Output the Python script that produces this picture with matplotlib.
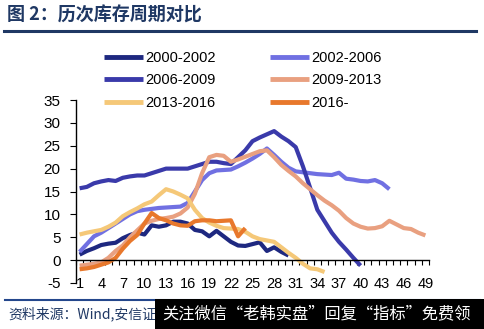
import numpy as np
import matplotlib
matplotlib.use("Agg")
import matplotlib.pyplot as plt
from matplotlib.lines import Line2D
from matplotlib.patches import Rectangle

plt.rcParams['font.family'] = ['Liberation Sans', 'Noto Sans CJK SC', 'DejaVu Sans']

# ---- data ----
labels = ["2000-2002", "2002-2006", "2006-2009", "2009-2013", "2013-2016", "2016-"]
s2000 = [1.2, 2.0, 2.6, 3.3, 3.6, 3.8, 4.8, 5.5, 6.0, 5.6, 7.6, 7.3, 7.6, 8.4, 8.4, 8.0,
         6.6, 6.3, 5.2, 6.4, 5.2, 4.0, 3.2, 3.1, 3.5, 3.9, 2.0, 2.8, 1.8, 1.0]
s2002 = [1.8, 3.5, 5.2, 6.0, 7.0, 8.0, 9.0, 10.0, 10.7, 11.0, 11.2, 11.4, 11.5, 11.6, 11.7,
         12.5, 15.0, 17.5, 19.0, 19.6, 19.7, 19.8, 20.5, 21.3, 22.2, 23.2, 24.4, 23.0, 21.5,
         20.2, 19.4, 19.2, 19.0, 18.8, 18.7, 18.6, 19.1, 17.8, 17.6, 17.3, 17.2, 17.5, 16.8, 15.5]
s2006 = [15.7, 16.0, 16.8, 17.2, 17.5, 17.3, 18.0, 18.3, 18.5, 18.5, 19.0, 19.5, 20.0, 20.0,
         20.0, 20.0, 20.5, 21.0, 21.5, 21.5, 21.2, 21.0, 22.5, 24.0, 26.0, 26.8, 27.5, 28.2,
         27.0, 26.0, 24.7, 20.5, 15.8, 11.0, 8.5, 6.0, 4.0, 2.3, 0.5, -1.2]
s2009 = [-1.2, -1.0, -0.8, -0.5, 0.5, 2.0, 3.2, 5.0, 6.5, 8.0, 8.6, 9.0, 9.2, 9.5, 10.2,
         11.5, 14.5, 19.0, 22.5, 23.0, 22.8, 21.5, 22.0, 22.6, 23.2, 23.8, 24.0, 22.5, 20.8,
         19.5, 18.3, 16.8, 15.5, 14.2, 13.0, 12.0, 10.8, 9.2, 8.0, 7.3, 6.9, 7.0, 7.4, 8.6,
         7.8, 7.0, 6.8, 6.0, 5.4]
s2013 = [5.6, 6.0, 6.3, 6.6, 7.3, 8.2, 9.6, 10.5, 11.3, 12.2, 12.8, 14.2, 15.5, 15.0, 14.3,
         13.5, 11.0, 9.2, 8.2, 7.5, 7.0, 6.9, 6.8, 6.2, 5.2, 4.6, 4.3, 4.0, 2.8, 1.6, 0.5,
         -0.8, -1.8, -2.0, -2.6]
s2016 = [-2.0, -1.8, -1.5, -1.0, -0.5, 0.5, 2.5, 4.2, 5.5, 8.0, 10.3, 9.2, 8.7, 8.0, 7.6,
         7.5, 8.5, 8.7, 8.7, 8.5, 8.6, 8.7, 5.2, 7.0]
series = [s2000, s2002, s2006, s2009, s2013, s2016]
colors = ["#1E2880", "#7070E2", "#3A3AAA", "#E9A080", "#F5C878", "#E8782C"]
xtick_labels = list(range(1, 50, 3))
yticks = list(range(-5, 36, 5))

W, H = 485, 329
fig = plt.figure(figsize=(W / 100, H / 100), dpi=100)
fig.patch.set_facecolor("white")

ax = fig.add_axes([76 / W, 1 - 283 / H, (429 - 76) / W, (283 - 100) / H])
ax.set_facecolor("white")
handles = []
for s, c, lab in zip(series, colors, labels):
    x = np.arange(1, len(s) + 1)
    h, = ax.plot(x, s, color=c, lw=3, solid_capstyle='butt', label=lab)
    handles.append(h)

ax.set_xlim(0.5, 49.5)
ax.set_ylim(-5, 35)
for sp in ["top", "right"]:
    ax.spines[sp].set_visible(False)
ax.spines["bottom"].set_position(("data", 0))
ax.spines["bottom"].set_linewidth(1.0)
ax.spines["left"].set_linewidth(1.0)
ax.set_yticks(yticks)
ax.set_yticklabels([str(v) for v in yticks], fontsize=11)
ax.tick_params(axis='y', direction='out', length=4, width=0.8, pad=7)
ax.set_xticks(xtick_labels)
ax.set_xticklabels([str(v) for v in xtick_labels], fontsize=10.5)
ax.tick_params(axis='x', which='major', length=0, pad=12)
ax.set_xticks(np.arange(0.5, 50, 1), minor=True)
ax.tick_params(axis='x', which='minor', direction='out', length=3.5, width=0.8)

order = [0, 2, 4, 1, 3, 5]
leg = fig.legend([handles[i] for i in order], [labels[i] for i in order], ncol=2,
                 loc='upper left', bbox_to_anchor=(104 / W, 1 - 51 / H), frameon=False,
                 fontsize=10.5, handlelength=2.7, handletextpad=0.15, columnspacing=3.7,
                 labelspacing=0.58, borderpad=0, borderaxespad=0)
for lh in leg.get_lines():
    lh.set_linewidth(3.5)

# title
fig.text(7 / W, 1 - 15 / H, "图 2：历次库存周期对比", fontsize=13, fontweight='bold',
         color="#1F3864", va='center', ha='left',
         family=['Noto Sans CJK SC', 'DejaVu Sans'])
fig.add_artist(Line2D([4 / W, 476 / W], [1 - 30.5 / H] * 2, color="#1F3864", lw=2.2))

# footer
fig.add_artist(Line2D([5 / W, 480 / W], [1 - 300 / H] * 2, color="#24478C", lw=1.5))
fig.text(8 / W, 1 - 314 / H, "资料来源：Wind,安信证", fontsize=10, color="#1F3864",
         style='italic', va='center', ha='left',
         family=['Noto Sans CJK SC', 'DejaVu Sans'])
fig.add_artist(Rectangle((155 / W, 0), (W - 155) / W, 30 / H, transform=fig.transFigure,
                         facecolor="black", edgecolor="none", zorder=10))
fig.text(162 / W, 1 - 314 / H, "关注微信“老韩实盘”回复“指标”免费领", fontsize=11.7,
         color="white", va='center', ha='left', zorder=11,
         family=['Noto Sans CJK SC', 'DejaVu Sans'])

fig.savefig("out.png", dpi=100, facecolor="white")
